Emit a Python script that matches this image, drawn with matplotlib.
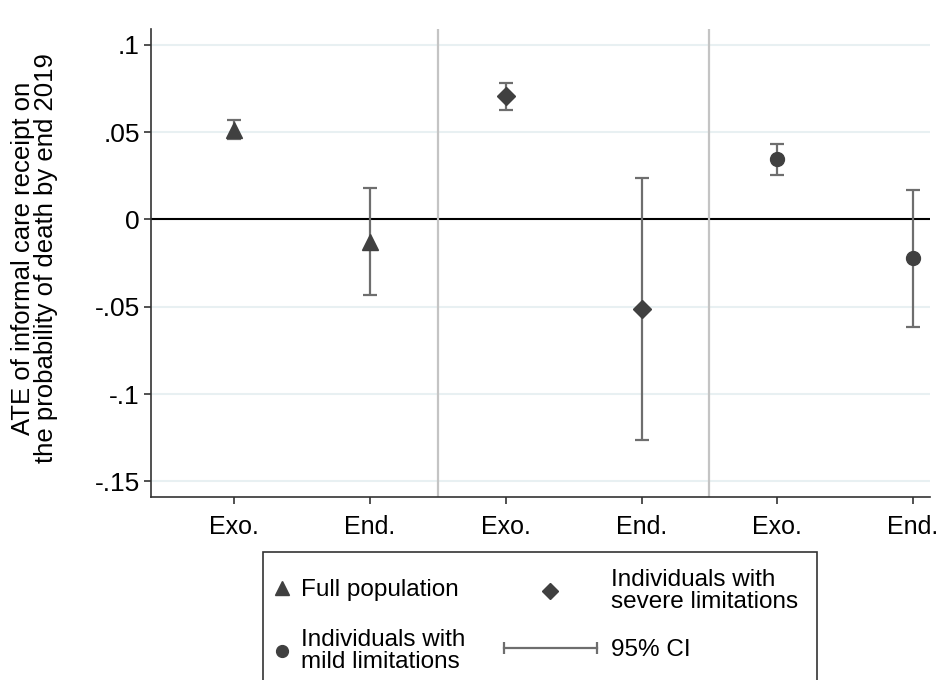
import matplotlib
matplotlib.use("Agg")
import matplotlib.pyplot as plt
from matplotlib.lines import Line2D
from matplotlib.patches import Rectangle
from matplotlib.legend_handler import HandlerLine2D

plt.rcParams["font.family"] = ["Liberation Sans", "DejaVu Sans"]

# estimates and 95% CI bounds
groups = ["Full population", "Individuals with\nsevere limitations", "Individuals with\nmild limitations"]
markers = ["^", "D", "o"]
estimates = [[0.051, -0.0128], [0.0706, -0.0515], [0.0344, -0.0223]]
ci_low = [[0.0458, -0.0435], [0.0628, -0.126], [0.0254, -0.0617]]
ci_high = [[0.0568, 0.0179], [0.0782, 0.0237], [0.0431, 0.0166]]
tick_labels = ["Exo.", "End.", "Exo.", "End.", "Exo.", "End."]
yticks = [0.1, 0.05, 0, -0.05, -0.1, -0.15]
ytick_labels = [".1", ".05", "0", "-.05", "-.1", "-.15"]

W, H = 941, 680
marker_sizes = {"^": 11.5, "D": 9.5, "o": 10}
legend_sizes = {"^": 10, "D": 8.5, "o": 8.5}
dark = "#404040"
bar_col = "#6e6e6e"
fs = 17.5

fig = plt.figure(figsize=(W / 100, H / 100), dpi=100)
ax = fig.add_axes([151 / W, 1 - 497 / H, (930 - 151) / W, (497 - 29) / H])

for y in yticks:
    if y != 0:
        ax.axhline(y, color="#e8f0f2", lw=1.5, zorder=0)
ax.axhline(0, color="black", lw=1.5, zorder=1)
ax.axvline(2.5, color="#c4c4c4", lw=1.6, zorder=1)
ax.axvline(4.5, color="#c4c4c4", lw=1.6, zorder=1)

handles = []
for g, (name, m) in enumerate(zip(groups, markers)):
    xs = [2 * g + 1, 2 * g + 2]
    est = estimates[g]
    lo = [e - l for e, l in zip(est, ci_low[g])]
    hi = [h - e for e, h in zip(est, ci_high[g])]
    ax.errorbar(xs, est, yerr=[lo, hi], fmt="none", ecolor=bar_col,
                elinewidth=1.6, capsize=4.8, capthick=1.6, zorder=2)
    ax.plot(xs, est, linestyle="none", marker=m, ms=marker_sizes[m],
            color=dark, zorder=3)
    handles.append(Line2D([], [], linestyle="none", marker=m,
                          ms=legend_sizes[m], color=dark, label=name))

ax.set_xlim(0.386, 6.125)
ax.set_ylim(-0.1589, 0.109)
ax.set_xticks(range(1, 7))
ax.set_xticklabels(tick_labels, fontsize=18)
ax.set_yticks(yticks)
ax.set_yticklabels(ytick_labels, fontsize=19)
ax.tick_params(axis="both", length=5, width=1.2, color="#333333", pad=3)
ax.tick_params(axis="x", pad=8)
for side in ["top", "right"]:
    ax.spines[side].set_visible(False)
for side in ["left", "bottom"]:
    ax.spines[side].set_color("#333333")
    ax.spines[side].set_linewidth(1.2)

ax.set_ylabel("ATE of informal care receipt on\nthe probability of death by end 2019",
              fontsize=18.5, linespacing=0.9)
ax.yaxis.set_label_coords(-0.12, 0.51)

# legend: two columns drawn as two frameless legends inside one box
ci_handle = Line2D([], [], color=bar_col, lw=1.6, marker="|", ms=9,
                   markeredgewidth=1.6, label="95% CI")

common = dict(loc="upper left", fontsize=fs, frameon=False, borderaxespad=0,
              borderpad=0.3, numpoints=1)
leg1 = fig.legend(handles=[handles[0], handles[2]],
                  bbox_to_anchor=(263 / W, 1 - 572 / H),
                  handlelength=1.0, handletextpad=0.25, labelspacing=1.13, **common)
leg2 = fig.legend(handles=[handles[1], ci_handle],
                  bbox_to_anchor=(489 / W, 1 - 561.5 / H),
                  handlelength=4.45, handletextpad=0.25, labelspacing=1.09,
                  handler_map={ci_handle: HandlerLine2D(numpoints=2)}, **common)
for leg in (leg1, leg2):
    for t in leg.get_texts():
        t.set_linespacing(1.0)

fig.patches.append(Rectangle((263 / W, -0.05), (817 - 263) / W, 0.05 + 1 - 552 / H,
                             transform=fig.transFigure, fill=False,
                             edgecolor="#333333", lw=1.2))

fig.savefig("out.png", dpi=100)
